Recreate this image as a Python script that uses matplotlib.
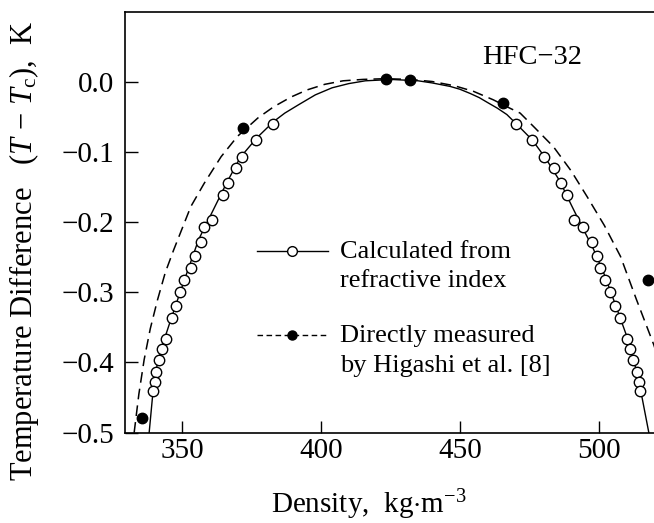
import matplotlib
matplotlib.use("Agg")
import matplotlib.pyplot as plt
import numpy as np
from matplotlib.legend_handler import HandlerLine2D

# open circles: temperatures shared by the vapour and liquid branches
calc_dT = [-0.060, -0.083, -0.107, -0.123, -0.145, -0.161, -0.197, -0.207,
           -0.229, -0.248, -0.265, -0.282, -0.300, -0.319, -0.337, -0.366,
           -0.381, -0.397, -0.414, -0.428, -0.440]
calc_rho_vap = [382.7, 376.7, 371.5, 369.5, 366.7, 364.7, 360.8, 357.8,
                356.9, 354.8, 353.2, 350.6, 349.4, 347.8, 346.4, 344.2,
                343.0, 341.8, 340.8, 340.3, 339.6]
calc_rho_liq = [470.3, 475.9, 480.1, 484.0, 486.5, 488.6, 491.0, 494.2,
                497.6, 499.2, 500.6, 502.4, 504.2, 505.8, 507.6, 510.0,
                511.4, 512.4, 513.8, 514.4, 514.8]

# solid curve
calc_curve_rho = [338.2, 339.5, 341.0, 343.0, 345.5, 348.5, 352.0, 356.0,
                  361.0, 366.0, 371.0, 377.0, 383.0, 387.0, 392.0, 398.0,
                  404.0, 410.0, 416.0, 421.0, 425.0, 430.0, 435.0, 440.0,
                  446.5, 450.0, 453.7, 457.0, 460.0, 463.5, 466.9, 471.0,
                  476.0, 481.0, 486.0, 490.0, 494.0, 498.0, 502.0, 506.0,
                  510.0, 514.0, 518.0]
calc_curve_dT = [-0.500, -0.445, -0.405, -0.375, -0.345, -0.310, -0.270,
                 -0.225, -0.185, -0.145, -0.108, -0.080, -0.057, -0.045,
                 -0.033, -0.019, -0.009, -0.003, 0.001, 0.002, 0.003, 0.002,
                 0.001, -0.002, -0.007, -0.011, -0.017, -0.023, -0.030,
                 -0.038, -0.047, -0.063, -0.083, -0.110, -0.142, -0.175,
                 -0.207, -0.238, -0.275, -0.318, -0.362, -0.418, -0.500]

# filled circles: Higashi et al. [8]
meas_rho = [335.8, 371.9, 423.4, 432.0, 465.7, 517.8]
meas_dT = [-0.479, -0.066, 0.004, 0.002, -0.030, -0.282]

# dashed curve
meas_curve_rho = [332.8, 334.5, 336.4, 338.6, 341.2, 344.0, 347.0, 349.8,
                  353.2, 358.0, 364.1, 370.0, 377.3, 383.0, 389.3, 395.0,
                  401.4, 408.0, 415.2, 423.0, 432.0, 440.0, 448.0, 454.9,
                  462.0, 468.0, 471.7, 477.0, 483.7, 490.0, 495.8, 502.0,
                  507.8, 513.5, 519.8, 521.0]
meas_curve_dT = [-0.500, -0.445, -0.396, -0.352, -0.311, -0.272, -0.240,
                 -0.212, -0.178, -0.145, -0.107, -0.078, -0.052, -0.036,
                 -0.022, -0.012, -0.004, 0.001, 0.003, 0.004, 0.003, 0.000,
                 -0.006, -0.014, -0.026, -0.038, -0.045, -0.066, -0.093,
                 -0.127, -0.164, -0.205, -0.249, -0.310, -0.375, -0.390]

x_ticks = [350, 400, 450, 500]
y_ticks = [0.0, -0.1, -0.2, -0.3, -0.4, -0.5]


class HandlerShifted(HandlerLine2D):
    # legend key placed level with the first line of a two-line label
    def __init__(self, shift=0.0, **kw):
        super().__init__(**kw)
        self.shift = shift

    def create_artists(self, legend, orig_handle, xdescent, ydescent,
                       width, height, fontsize, trans):
        artists = super().create_artists(legend, orig_handle, xdescent,
                                         ydescent, width, height, fontsize,
                                         trans)
        for a in artists:
            a.set_ydata(np.asarray(a.get_ydata()) + self.shift * fontsize)
        return artists


plt.rcParams['font.family'] = ['Liberation Serif', 'DejaVu Serif']
plt.rcParams['mathtext.fontset'] = 'custom'
plt.rcParams['mathtext.rm'] = 'Liberation Serif'
plt.rcParams['mathtext.it'] = 'Liberation Serif:italic'

fig = plt.figure(figsize=(6.54, 5.23), dpi=100)
ax = fig.add_axes([0.1911, 0.1727, 0.8095, 0.8044])

ax.plot(calc_curve_rho, calc_curve_dT, color='black', lw=1.0, zorder=2)
ax.plot(meas_curve_rho, meas_curve_dT, color='black', lw=1.1,
        linestyle=(0, (7, 4)), zorder=2)

ax.plot(calc_rho_vap, calc_dT, linestyle='none', marker='o', ms=7.5,
        mfc='white', mec='black', mew=1.0, zorder=3)
ax.plot(calc_rho_liq, calc_dT, linestyle='none', marker='o', ms=7.5,
        mfc='white', mec='black', mew=1.0, zorder=3)
ax.plot(meas_rho, meas_dT, linestyle='none', marker='o', ms=7.5,
        mfc='black', mec='black', zorder=3)

h_calc, = ax.plot([], [], color='black', lw=1.0, marker='o', ms=7,
                  mfc='white', mec='black', mew=1.0)
h_meas, = ax.plot([], [], color='black', lw=1.0, linestyle=(0, (4, 2.5)),
                  marker='o', ms=6.5, mfc='black', mec='black')

leg = ax.legend([h_calc, h_meas],
                ['Calculated from\nrefractive index',
                 'Directly measured\nby Higashi et al. [8]'],
                loc='upper left', bbox_to_anchor=(0.249, 0.456),
                frameon=False, fontsize=19, handlelength=2.7,
                handletextpad=0.45, labelspacing=1.23, borderpad=0,
                borderaxespad=0, numpoints=1,
                handler_map={h_calc: HandlerShifted(shift=0.58),
                             h_meas: HandlerShifted(shift=0.58)})
for t in leg.get_texts():
    t.set_linespacing(1.45)

ax.text(0.674, 0.876, 'HFC\u221232', transform=ax.transAxes,
        fontsize=20.5, va='baseline', ha='left')

ax.set_xlim(329.5, 520)
ax.set_ylim(-0.5, 0.099)
ax.set_xticks(x_ticks)
ax.set_yticks(y_ticks)
ax.set_yticklabels(['%.1f' % v if v == 0 else '\u2212%.1f' % abs(v)
                    for v in y_ticks])
ax.tick_params(direction='in', length=9, width=1.0, labelsize=21)
ax.tick_params(axis='x', pad=4)
ax.tick_params(axis='y', pad=8)
ax.spines['right'].set_visible(False)
for s in ['left', 'top', 'bottom']:
    ax.spines[s].set_linewidth(1.2)

fig.text(24 / 654, 1 - 251 / 523,
         r'Temperature Difference   ($T$ $-$ $T_{\rm c}$),  K',
         rotation=90, ha='center', va='center', fontsize=22)
fig.text(369 / 654, 1 - 513 / 523, r'Density,  kg$\cdot$m$^{-3}$',
         ha='center', va='baseline', fontsize=21)

fig.savefig('out.png', dpi=100)
